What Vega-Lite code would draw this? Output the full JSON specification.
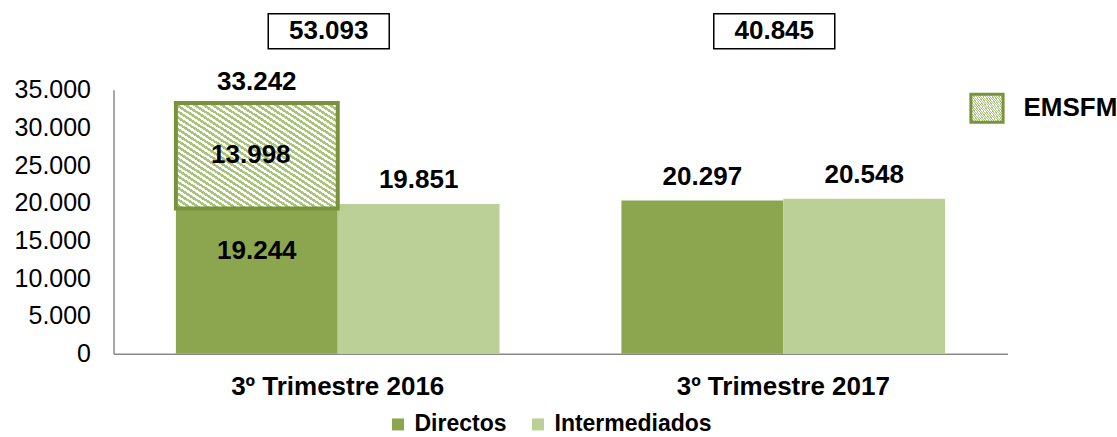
{
  "$schema": "https://vega.github.io/schema/vega-lite/v6.json",
  "autosize": {"type": "pad"},
  "padding": {"left": 13.5, "top": 12.7, "right": 0, "bottom": 0},
  "background": "white",
  "config": {
    "locale": {"number": {"decimal": ",", "thousands": ".", "grouping": [3], "currency": ["", " €"]}},
    "font": "Liberation Sans",
    "view": {"stroke": null},
    "text": {"font": "Liberation Sans"},
    "legend": {"labelFont": "Liberation Sans", "labelLimit": 0},
    "axis": {"labelFont": "Liberation Sans"},
    "axisY": {"labelOverlap": false, "labelSeparation": -20, "labelFlush": false, "ticks": false, "grid": false, "domainColor": "#898989", "domainWidth": 1.5, "labelFontSize": 25, "labelColor": "#000000", "labelPadding": 23},
    "axisX": {"ticks": false, "domainColor": "#898989", "domainWidth": 1.5, "labelFontSize": 26, "labelFontWeight": "bold", "labelColor": "#000000", "labelPadding": 20, "labelAngle": 0, "labelLimit": 0}
  },
  "datasets": {
    "bars": [
      {"quarter": "3º Trimestre 2016", "series": "Directos", "value": 19244},
      {"quarter": "3º Trimestre 2016", "series": "Intermediados", "value": 19851},
      {"quarter": "3º Trimestre 2017", "series": "Directos", "value": 20297},
      {"quarter": "3º Trimestre 2017", "series": "Intermediados", "value": 20548}
    ],
    "emsfm": [
      {"quarter": "3º Trimestre 2016", "series": "Directos", "kind": "EMSFM", "lo": 19244, "hi": 33242, "amount": 13998}
    ],
    "totals": [
      {"quarter": "3º Trimestre 2016", "total": 53093},
      {"quarter": "3º Trimestre 2017", "total": 40845}
    ]
  },
  "bounds": "flush",
  "spacing": 41,
  "resolve": {
    "scale": {"fill": "independent", "stroke": "independent"},
    "legend": {"fill": "independent", "stroke": "independent"}
  },
  "vconcat": [
    {
      "width": 894,
      "height": 35,
      "data": {"name": "totals"},
      "layer": [
        {
          "mark": {"type": "bar", "width": 121, "xOffset": -9, "fill": "#ffffff", "stroke": "#000000", "strokeWidth": 1.5},
          "encoding": {
            "x": {"field": "quarter", "type": "nominal", "sort": null, "scale": {"paddingInner": 0.2735, "paddingOuter": 0.14}, "axis": null}
          }
        },
        {
          "mark": {"type": "text", "fontSize": 26, "fontWeight": "bold", "baseline": "middle", "xOffset": -9, "color": "#000000"},
          "encoding": {
            "x": {"field": "quarter", "type": "nominal", "sort": null, "scale": {"paddingInner": 0.2735, "paddingOuter": 0.14}, "axis": null},
            "text": {"field": "total", "type": "quantitative", "format": ",d"}
          }
        }
      ]
    },
    {
      "width": 894,
      "height": 264,
      "layer": [
        {
          "data": {"name": "bars"},
          "mark": {"type": "bar"},
          "encoding": {
            "x": {"field": "quarter", "type": "nominal", "sort": null, "title": null,
              "scale": {"paddingInner": 0.2735, "paddingOuter": 0.14}},
            "xOffset": {"field": "series", "type": "nominal", "scale": {"domain": ["Directos", "Intermediados"], "paddingInner": 0, "paddingOuter": 0}},
            "y": {"field": "value", "type": "quantitative", "title": null,
              "scale": {"domain": [0, 35000], "nice": false},
              "axis": {"values": [0, 5000, 10000, 15000, 20000, 25000, 30000, 35000], "format": ",d", "labelOverlap": false, "labelSeparation": -20}},
            "fill": {"field": "series", "type": "nominal",
              "scale": {"domain": ["Directos", "Intermediados"], "range": ["#8BA64F", "#BBD097"]},
              "legend": {"orient": "none", "legendX": 273, "legendY": 323, "direction": "horizontal", "title": null, "symbolType": "square", "symbolSize": 144, "symbolStrokeWidth": 0, "labelFontSize": 23, "labelFontWeight": "bold", "labelColor": "#000000", "labelOffset": 5, "labelLimit": 0, "columnPadding": 19}}
          }
        },
        {
          "data": {"name": "emsfm"},
          "mark": {"type": "bar", "strokeWidth": 4,
            "fill": {"gradient": "linear", "x1": 0, "y1": 1, "x2": 1, "y2": 0, "stops": [
              {"offset":0,"color":"#fff"},{"offset":0.0139,"color":"#fff"},{"offset":0.0139,"color":"#a8c57a"},{"offset":0.0278,"color":"#a8c57a"},
              {"offset":0.0278,"color":"#fff"},{"offset":0.0417,"color":"#fff"},{"offset":0.0417,"color":"#a8c57a"},{"offset":0.0556,"color":"#a8c57a"},
              {"offset":0.0556,"color":"#fff"},{"offset":0.0694,"color":"#fff"},{"offset":0.0694,"color":"#a8c57a"},{"offset":0.0833,"color":"#a8c57a"},
              {"offset":0.0833,"color":"#fff"},{"offset":0.0972,"color":"#fff"},{"offset":0.0972,"color":"#a8c57a"},{"offset":0.1111,"color":"#a8c57a"},
              {"offset":0.1111,"color":"#fff"},{"offset":0.125,"color":"#fff"},{"offset":0.125,"color":"#a8c57a"},{"offset":0.1389,"color":"#a8c57a"},
              {"offset":0.1389,"color":"#fff"},{"offset":0.1528,"color":"#fff"},{"offset":0.1528,"color":"#a8c57a"},{"offset":0.1667,"color":"#a8c57a"},
              {"offset":0.1667,"color":"#fff"},{"offset":0.1806,"color":"#fff"},{"offset":0.1806,"color":"#a8c57a"},{"offset":0.1944,"color":"#a8c57a"},
              {"offset":0.1944,"color":"#fff"},{"offset":0.2083,"color":"#fff"},{"offset":0.2083,"color":"#a8c57a"},{"offset":0.2222,"color":"#a8c57a"},
              {"offset":0.2222,"color":"#fff"},{"offset":0.2361,"color":"#fff"},{"offset":0.2361,"color":"#a8c57a"},{"offset":0.25,"color":"#a8c57a"},
              {"offset":0.25,"color":"#fff"},{"offset":0.2639,"color":"#fff"},{"offset":0.2639,"color":"#a8c57a"},{"offset":0.2778,"color":"#a8c57a"},
              {"offset":0.2778,"color":"#fff"},{"offset":0.2917,"color":"#fff"},{"offset":0.2917,"color":"#a8c57a"},{"offset":0.3056,"color":"#a8c57a"},
              {"offset":0.3056,"color":"#fff"},{"offset":0.3194,"color":"#fff"},{"offset":0.3194,"color":"#a8c57a"},{"offset":0.3333,"color":"#a8c57a"},
              {"offset":0.3333,"color":"#fff"},{"offset":0.3472,"color":"#fff"},{"offset":0.3472,"color":"#a8c57a"},{"offset":0.3611,"color":"#a8c57a"},
              {"offset":0.3611,"color":"#fff"},{"offset":0.375,"color":"#fff"},{"offset":0.375,"color":"#a8c57a"},{"offset":0.3889,"color":"#a8c57a"},
              {"offset":0.3889,"color":"#fff"},{"offset":0.4028,"color":"#fff"},{"offset":0.4028,"color":"#a8c57a"},{"offset":0.4167,"color":"#a8c57a"},
              {"offset":0.4167,"color":"#fff"},{"offset":0.4306,"color":"#fff"},{"offset":0.4306,"color":"#a8c57a"},{"offset":0.4444,"color":"#a8c57a"},
              {"offset":0.4444,"color":"#fff"},{"offset":0.4583,"color":"#fff"},{"offset":0.4583,"color":"#a8c57a"},{"offset":0.4722,"color":"#a8c57a"},
              {"offset":0.4722,"color":"#fff"},{"offset":0.4861,"color":"#fff"},{"offset":0.4861,"color":"#a8c57a"},{"offset":0.5,"color":"#a8c57a"},
              {"offset":0.5,"color":"#fff"},{"offset":0.5139,"color":"#fff"},{"offset":0.5139,"color":"#a8c57a"},{"offset":0.5278,"color":"#a8c57a"},
              {"offset":0.5278,"color":"#fff"},{"offset":0.5417,"color":"#fff"},{"offset":0.5417,"color":"#a8c57a"},{"offset":0.5556,"color":"#a8c57a"},
              {"offset":0.5556,"color":"#fff"},{"offset":0.5694,"color":"#fff"},{"offset":0.5694,"color":"#a8c57a"},{"offset":0.5833,"color":"#a8c57a"},
              {"offset":0.5833,"color":"#fff"},{"offset":0.5972,"color":"#fff"},{"offset":0.5972,"color":"#a8c57a"},{"offset":0.6111,"color":"#a8c57a"},
              {"offset":0.6111,"color":"#fff"},{"offset":0.625,"color":"#fff"},{"offset":0.625,"color":"#a8c57a"},{"offset":0.6389,"color":"#a8c57a"},
              {"offset":0.6389,"color":"#fff"},{"offset":0.6528,"color":"#fff"},{"offset":0.6528,"color":"#a8c57a"},{"offset":0.6667,"color":"#a8c57a"},
              {"offset":0.6667,"color":"#fff"},{"offset":0.6806,"color":"#fff"},{"offset":0.6806,"color":"#a8c57a"},{"offset":0.6944,"color":"#a8c57a"},
              {"offset":0.6944,"color":"#fff"},{"offset":0.7083,"color":"#fff"},{"offset":0.7083,"color":"#a8c57a"},{"offset":0.7222,"color":"#a8c57a"},
              {"offset":0.7222,"color":"#fff"},{"offset":0.7361,"color":"#fff"},{"offset":0.7361,"color":"#a8c57a"},{"offset":0.75,"color":"#a8c57a"},
              {"offset":0.75,"color":"#fff"},{"offset":0.7639,"color":"#fff"},{"offset":0.7639,"color":"#a8c57a"},{"offset":0.7778,"color":"#a8c57a"},
              {"offset":0.7778,"color":"#fff"},{"offset":0.7917,"color":"#fff"},{"offset":0.7917,"color":"#a8c57a"},{"offset":0.8056,"color":"#a8c57a"},
              {"offset":0.8056,"color":"#fff"},{"offset":0.8194,"color":"#fff"},{"offset":0.8194,"color":"#a8c57a"},{"offset":0.8333,"color":"#a8c57a"},
              {"offset":0.8333,"color":"#fff"},{"offset":0.8472,"color":"#fff"},{"offset":0.8472,"color":"#a8c57a"},{"offset":0.8611,"color":"#a8c57a"},
              {"offset":0.8611,"color":"#fff"},{"offset":0.875,"color":"#fff"},{"offset":0.875,"color":"#a8c57a"},{"offset":0.8889,"color":"#a8c57a"},
              {"offset":0.8889,"color":"#fff"},{"offset":0.9028,"color":"#fff"},{"offset":0.9028,"color":"#a8c57a"},{"offset":0.9167,"color":"#a8c57a"},
              {"offset":0.9167,"color":"#fff"},{"offset":0.9306,"color":"#fff"},{"offset":0.9306,"color":"#a8c57a"},{"offset":0.9444,"color":"#a8c57a"},
              {"offset":0.9444,"color":"#fff"},{"offset":0.9583,"color":"#fff"},{"offset":0.9583,"color":"#a8c57a"},{"offset":0.9722,"color":"#a8c57a"},
              {"offset":0.9722,"color":"#fff"},{"offset":0.9861,"color":"#fff"},{"offset":0.9861,"color":"#a8c57a"},{"offset":1,"color":"#a8c57a"}
            ]}},
          "encoding": {
            "x": {"field": "quarter", "type": "nominal", "sort": null, "title": null},
            "xOffset": {"field": "series", "type": "nominal"},
            "y": {"field": "lo", "type": "quantitative", "title": null, "axis": {"values": [0, 5000, 10000, 15000, 20000, 25000, 30000, 35000], "format": ",d", "labelOverlap": false, "labelSeparation": -20}},
            "y2": {"field": "hi"},
            "stroke": {"field": "kind", "type": "nominal",
              "scale": {"domain": ["EMSFM"], "range": ["#77933C"]},
              "legend": {"orient": "none", "legendX": 858, "legendY": 3, "title": null,
                "symbolType": "M-1.15,-1H1.15V1H-1.15Z", "symbolSize": 784, "symbolStrokeWidth": 3,
                "labelFontSize": 26, "labelFontWeight": "bold", "labelColor": "#000000", "labelOffset": 21, "labelLimit": 0,
                "encode": {"symbols": {"update": {
                  "stroke": {"value": "#9BBB59"},
                  "fill": {"value": {"gradient": "linear", "x1": 0, "y1": 1, "x2": 1, "y2": 0, "stops": [
                    {"offset":0,"color":"#fff"},{"offset":0.0714,"color":"#fff"},{"offset":0.0714,"color":"#a8c57a"},{"offset":0.1429,"color":"#a8c57a"},
                    {"offset":0.1429,"color":"#fff"},{"offset":0.2143,"color":"#fff"},{"offset":0.2143,"color":"#a8c57a"},{"offset":0.2857,"color":"#a8c57a"},
                    {"offset":0.2857,"color":"#fff"},{"offset":0.3571,"color":"#fff"},{"offset":0.3571,"color":"#a8c57a"},{"offset":0.4286,"color":"#a8c57a"},
                    {"offset":0.4286,"color":"#fff"},{"offset":0.5,"color":"#fff"},{"offset":0.5,"color":"#a8c57a"},{"offset":0.5714,"color":"#a8c57a"},
                    {"offset":0.5714,"color":"#fff"},{"offset":0.6429,"color":"#fff"},{"offset":0.6429,"color":"#a8c57a"},{"offset":0.7143,"color":"#a8c57a"},
                    {"offset":0.7143,"color":"#fff"},{"offset":0.7857,"color":"#fff"},{"offset":0.7857,"color":"#a8c57a"},{"offset":0.8571,"color":"#a8c57a"},
                    {"offset":0.8571,"color":"#fff"},{"offset":0.9286,"color":"#fff"},{"offset":0.9286,"color":"#a8c57a"},{"offset":1,"color":"#a8c57a"}
                  ]}}
                }}}}}
          }
        },
        {
          "data": {"name": "bars"},
          "transform": [{"filter": "!(datum.quarter === '3º Trimestre 2016' && datum.series === 'Directos')"}],
          "mark": {"type": "text", "fontSize": 26, "fontWeight": "bold", "baseline": "middle", "dy": -24, "color": "#000000"},
          "encoding": {
            "x": {"field": "quarter", "type": "nominal", "sort": null, "title": null},
            "xOffset": {"field": "series", "type": "nominal"},
            "y": {"field": "value", "type": "quantitative", "title": null, "axis": {"values": [0, 5000, 10000, 15000, 20000, 25000, 30000, 35000], "format": ",d", "labelOverlap": false, "labelSeparation": -20}},
            "text": {"field": "value", "type": "quantitative", "format": ",d"}
          }
        },
        {
          "data": {"name": "bars"},
          "transform": [{"filter": "datum.quarter === '3º Trimestre 2016' && datum.series === 'Directos'"}],
          "mark": {"type": "text", "fontSize": 26, "fontWeight": "bold", "baseline": "middle", "dy": 42, "color": "#000000"},
          "encoding": {
            "x": {"field": "quarter", "type": "nominal", "sort": null, "title": null},
            "xOffset": {"field": "series", "type": "nominal"},
            "y": {"field": "value", "type": "quantitative", "title": null, "axis": {"values": [0, 5000, 10000, 15000, 20000, 25000, 30000, 35000], "format": ",d", "labelOverlap": false, "labelSeparation": -20}},
            "text": {"field": "value", "type": "quantitative", "format": ",d"}
          }
        },
        {
          "data": {"name": "emsfm"},
          "mark": {"type": "text", "fontSize": 26, "fontWeight": "bold", "baseline": "middle", "dy": 52, "dx": -6, "color": "#000000"},
          "encoding": {
            "x": {"field": "quarter", "type": "nominal", "sort": null, "title": null},
            "xOffset": {"field": "series", "type": "nominal"},
            "y": {"field": "hi", "type": "quantitative", "title": null, "axis": {"values": [0, 5000, 10000, 15000, 20000, 25000, 30000, 35000], "format": ",d", "labelOverlap": false, "labelSeparation": -20}},
            "text": {"field": "amount", "type": "quantitative", "format": ",d"}
          }
        },
        {
          "data": {"name": "emsfm"},
          "mark": {"type": "text", "fontSize": 26, "fontWeight": "bold", "baseline": "middle", "dy": -21, "color": "#000000"},
          "encoding": {
            "x": {"field": "quarter", "type": "nominal", "sort": null, "title": null},
            "xOffset": {"field": "series", "type": "nominal"},
            "y": {"field": "hi", "type": "quantitative", "title": null, "axis": {"values": [0, 5000, 10000, 15000, 20000, 25000, 30000, 35000], "format": ",d", "labelOverlap": false, "labelSeparation": -20}},
            "text": {"field": "hi", "type": "quantitative", "format": ",d"}
          }
        }
      ]
    }
  ]
}
